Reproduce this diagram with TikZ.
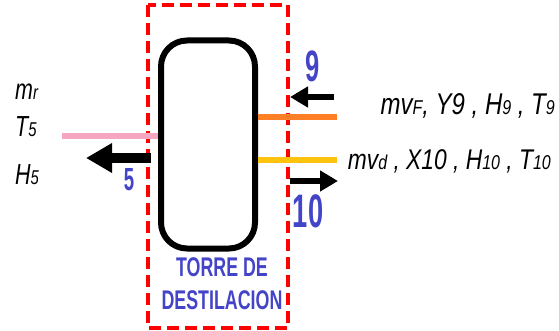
\documentclass[tikz,border=0pt]{standalone}
\usepackage{fontspec}
\setmainfont{Liberation Sans}
\newfontfamily\varfont[FakeStretch=0.74]{Liberation Sans}
\newfontfamily\outfont[FakeStretch=0.8]{Liberation Sans}
\newfontfamily\tagfont[FakeStretch=0.58]{Liberation Sans}
\newfontfamily\namefont[FakeStretch=0.66]{Liberation Sans}
\usetikzlibrary{arrows.meta,positioning}
\definecolor{tagblue}{HTML}{4444C8}
\definecolor{pinkflow}{HTML}{F7A6C2}
\definecolor{orangeflow}{HTML}{FF7F27}
\definecolor{yellowflow}{HTML}{FFC20E}
\newcommand{\lowsub}[1]{{\fontsize{20}{20}\selectfont #1}}

\begin{document}
\begin{tikzpicture}[
    x=1pt, y=-1pt,
    tower/.style={draw, line width=6pt, rounded corners=26pt,
                  minimum width=94pt, minimum height=208pt},
    boundary/.style={draw=red, line width=4pt, dash pattern=on 12pt off 6pt},
    flow/.style={line width=6pt},
    bigarrow/.style={line width=10pt, -{Triangle[length=26pt, width=28pt]}},
    smallarrow/.style={line width=6pt, -{Triangle[length=18pt, width=20pt]}},
    streamno/.style={text=tagblue, inner sep=0pt, anchor=base},
    varlabel/.style={font=\varfont\itshape\fontsize{29}{29}\selectfont, inner sep=0pt},
    outlabel/.style={font=\outfont\itshape\fontsize{30}{30}\selectfont, inner sep=0pt},
  ]
  \useasboundingbox (0,0) rectangle (559,331);

  % ── Control volume and column ──
  \draw[boundary] (148,5) rectangle (288,328);
  \node[tower] at (208,144.5) (tower) {};
  \node[text=tagblue, font=\namefont\bfseries\fontsize{27}{33}\selectfont,
        align=center, inner sep=0pt] at (222,284) (name)
    {TORRE DE\\DESTILACION};

  % ── Stream 5 (left) ──
  \coordinate (p5) at (62,136);
  \coordinate (a5s) at (151,158);
  \coordinate (a5e) at (86,158);
  \draw[flow, pinkflow] (p5) -- (tower.west |- p5);
  \draw[bigarrow] (a5s) -- (a5e);
  \node[streamno, font=\tagfont\bfseries\fontsize{32}{32}\selectfont] at (129,190) (n5) {5};
  \node[varlabel, anchor=base west] at (15,100) (mr) {m\lowsub{r}};
  \node[varlabel, anchor=base west] at (15,137) (t5) {T\lowsub{5}};
  \node[varlabel, anchor=base west] at (15,185) (h5) {H\lowsub{5}};

  % ── Streams 9 and 10 (right) ──
  \coordinate (p9) at (337,117);
  \coordinate (p10) at (337,160);
  \coordinate (a9s) at (334,97);
  \coordinate (a9e) at (290,97);
  \coordinate (a10s) at (290,181);
  \coordinate (a10e) at (338,181);
  \draw[flow, orangeflow] (tower.east |- p9) -- (p9);
  \draw[flow, yellowflow] (tower.east |- p10) -- (p10);
  \draw[smallarrow] (a9s) -- (a9e);
  \draw[smallarrow] (a10s) -- (a10e);
  \node[streamno, font=\tagfont\bfseries\fontsize{44}{44}\selectfont] at (313,82) (n9) {9};
  \node[streamno, font=\tagfont\bfseries\fontsize{47}{47}\selectfont] at (308,227) (n10) {10};
  \node[outlabel, anchor=base east] at (555,115) (out9)
    {mv\lowsub{F}, Y9 , H\lowsub{9} , T\lowsub{9}};
  \node[outlabel, font=\outfont\itshape\fontsize{28.5}{28.5}\selectfont,
        anchor=base east] at (551,170) (out10)
    {mv\lowsub{d} , X10 , H\lowsub{10} , T\lowsub{10}};
\end{tikzpicture}
\end{document}
